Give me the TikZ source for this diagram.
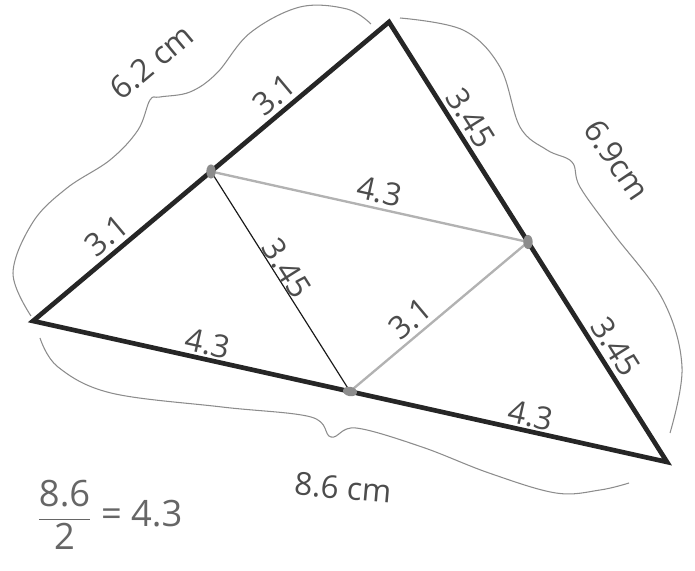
\documentclass[tikz,border=0pt]{standalone}
\usepackage{amsmath}
\usepackage{fontspec}
\setmainfont{Open Sans}
\usepackage{tikz}
\usetikzlibrary{
	calc,
	positioning,
	shapes.geometric
}

\begin{document}
\begin{tikzpicture}[
			x=0.03cm, y=-0.03cm,
			font=\fontsize{27}{32}\selectfont,
			side/.style={line width=4pt, draw=black!85, line join=miter},
			mid/.style={line width=2pt, draw=black!30},
			midd/.style={line width=1pt, draw=black!90},
			lbl/.style={text=black!70, sloped, above, inner sep=3.5pt},
			brc/.style={line width=0.9pt, draw=black!45},
			dot/.style={ellipse, fill=black!45, minimum width=8pt, minimum height=12pt, inner sep=0pt}
		]
		\useasboundingbox (0,0) rectangle (695,571);

		\coordinate (A) at (33,321);
		\coordinate (B) at (389,22);
		\coordinate (C) at (667,462);
		\coordinate (mAB) at ($(A)!0.5!(B)$);
		\coordinate (mBC) at ($(B)!0.5!(C)$);
		\coordinate (mAC) at ($(A)!0.5!(C)$);

		% midsegments
		\draw[mid] (mAB) -- node[lbl, pos=0.52] {4.3} (mBC);
		\draw[mid] (mAC) -- node[lbl, pos=0.4] {3.1} (mBC);
		\draw[midd] (mAB) -- node[lbl, pos=0.47, inner sep=0pt] {3.45} (mAC);

		% triangle
		\draw[side] (A) -- node[lbl, pos=0.24] {3.1} node[lbl, pos=0.71] {3.1} (B)
			-- node[lbl, pos=0.24] {3.45} node[lbl, pos=0.76] {3.45} (C)
			-- cycle;
		\path (A) -- node[lbl, pos=0.27] {4.3} node[lbl, pos=0.78] {4.3} (C);

		\node[dot] (dAB) at (mAB) {};
		\node[dot] (dBC) at (mBC) {};
		\node[dot, rotate=80] (dAC) at (mAC) {};

		% braces
		\draw[brc] plot[smooth, tension=0.6] coordinates {(31,316) (13,273) (33,222) (67,188) (110,160) (138,130) (150,100) (160,97) (190,92) (217,73) (250,33) (300,7) (347,9) (371,24)};
		\draw[brc] plot[smooth, tension=0.6] coordinates {(400,18) (463,30) (500,67) (520,127) (547,150) (572,162) (580,187) (613,233) (663,300) (682,367) (670,433)};
		\draw[brc] plot[smooth, tension=0.6] coordinates {(40,338) (58,367) (111,393) (222,407) (311,417) (331,437) (356,428) (422,447) (489,473) (556,493) (600,490) (629,483)};

		\node[text=black!70, rotate=40] (lAB) at (152,62) {6.2 cm};
		\node[text=black!70, rotate=-56] (lBC) at (617,160) {6.9cm};
		\node[text=black!70, rotate=-5] (lAC) at (343,488) {8.6 cm};
		\node[text=black!60, font=\fontsize{31}{36}\selectfont] (half) at (110,515) {$\dfrac{\text{8.6}}{\text{2}}\text{ = 4.3}$};
	\end{tikzpicture}
\end{document}
